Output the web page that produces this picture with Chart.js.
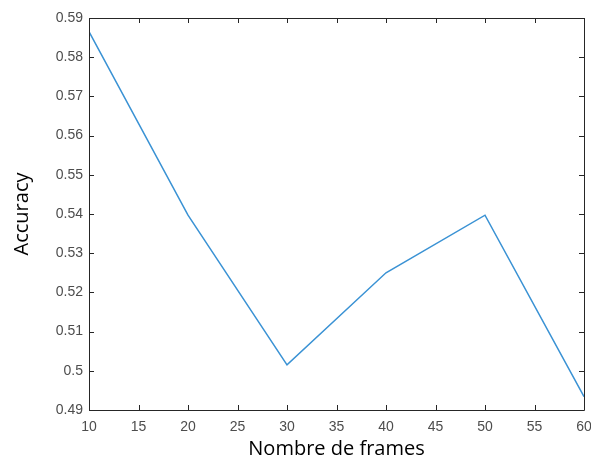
<!DOCTYPE html>
<html>
<head>
<meta charset="utf-8">
<script src="https://cdn.jsdelivr.net/npm/chart.js@4"></script>
<style>
  html, body { margin: 0; padding: 0; background: #fff; }
  #wrap { width: 591px; height: 459px; }
</style>
</head>
<body>
<div id="wrap"><canvas id="canvas" width="591" height="459"></canvas></div>
<script>
var frames = [10, 20, 30, 40, 50, 60];
var accuracy = [0.5865, 0.5397, 0.5015, 0.5250, 0.5397, 0.4934];
var xTickValues = [10, 15, 20, 25, 30, 35, 40, 45, 50, 55, 60];
var yTickValues = [0.49, 0.5, 0.51, 0.52, 0.53, 0.54, 0.55, 0.56, 0.57, 0.58, 0.59];

var points = [];
for (var i = 0; i < frames.length; i++) {
  points.push({ x: frames[i], y: accuracy[i] });
}

// matlab style box with ticks pointing inward
var boxTicks = {
  id: 'boxTicks',
  afterDraw: function(chart) {
    var ctx = chart.ctx;
    var a = chart.chartArea;
    var xs = chart.scales.x, ys = chart.scales.y;
    var len = 5;
    ctx.save();
    ctx.strokeStyle = '#262626';
    ctx.lineWidth = 1;
    ctx.beginPath();
    ctx.rect(Math.round(a.left) + 0.5, Math.round(a.top) + 0.5,
             Math.round(a.right - a.left), Math.round(a.bottom - a.top));
    xTickValues.forEach(function(v) {
      var px = Math.round(xs.getPixelForValue(v)) + 0.5;
      ctx.moveTo(px, a.bottom); ctx.lineTo(px, a.bottom - len);
      ctx.moveTo(px, a.top); ctx.lineTo(px, a.top + len);
    });
    yTickValues.forEach(function(v) {
      var py = Math.round(ys.getPixelForValue(v)) + 0.5;
      ctx.moveTo(a.left, py); ctx.lineTo(a.left + len, py);
      ctx.moveTo(a.right, py); ctx.lineTo(a.right - len, py);
    });
    ctx.stroke();
    ctx.restore();
  }
};

var ctx = document.getElementById('canvas').getContext('2d');
new Chart(ctx, {
  type: 'line',
  data: {
    datasets: [{
      data: points,
      borderColor: '#3a92d4',
      borderWidth: 1.5,
      pointRadius: 0,
      tension: 0,
      fill: false
    }]
  },
  options: {
    responsive: false,
    animation: false,
    layout: { padding: { left: 0, top: 18, right: 7, bottom: 0 } },
    plugins: { legend: { display: false }, tooltip: { enabled: false } },
    scales: {
      x: {
        type: 'linear',
        min: 10, max: 60,
        afterBuildTicks: function(s) { s.ticks = xTickValues.map(function(v) { return { value: v }; }); },
        afterFit: function(s) { s.height = 49; s.paddingLeft = 0; s.paddingRight = 0; },
        grid: { display: false, drawTicks: false },
        border: { display: false },
        ticks: { color: '#4d4d4d', padding: 9, font: { family: 'Liberation Sans', size: 14 }, maxRotation: 0 },
        title: {
          display: true, text: 'Nombre de frames', color: '#000',
          font: { family: 'Open Sans', size: 20, lineHeight: 1 },
          padding: { top: 0, bottom: 0 }
        }
      },
      y: {
        min: 0.49, max: 0.59,
        afterBuildTicks: function(s) { s.ticks = yTickValues.map(function(v) { return { value: v }; }); },
        afterFit: function(s) { s.width = 89; },
        grid: { display: false, drawTicks: false },
        border: { display: false },
        ticks: {
          color: '#4d4d4d', padding: 6, font: { family: 'Liberation Sans', size: 14 },
          callback: function(v) { return String(+v.toFixed(2)); }
        },
        title: {
          display: true, text: 'Accuracy', color: '#000',
          font: { family: 'Open Sans', size: 20, lineHeight: 1 },
          padding: { top: 12, bottom: 0 }
        }
      }
    }
  },
  plugins: [boxTicks]
});
</script>
</body>
</html>
